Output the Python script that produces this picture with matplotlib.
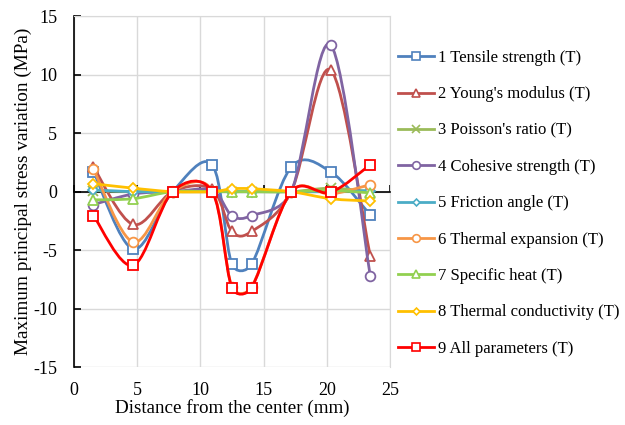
import numpy as np
import matplotlib
matplotlib.use('Agg')
import matplotlib.pyplot as plt
from matplotlib.path import Path
from matplotlib.patches import PathPatch
from matplotlib.lines import Line2D

plt.rc('font', family='Liberation Serif')
plt.rc('axes', unicode_minus=False)

# distance from the center (mm)
dist = [1.56, 4.69, 7.81, 10.94, 12.5, 14.06, 17.19, 20.31, 23.44]

tensile = [1.7, -4.9, 0.0, 2.3, -6.2, -6.2, 2.1, 1.7, -2.0]
young = [2.1, -2.8, 0.0, 0.2, -3.4, -3.4, 0.0, 10.4, -5.5]
poisson = [0.1, 0.0, 0.0, 0.05, 0.0, 0.0, 0.0, 0.3, 0.0]
cohesive = [-1.1, -0.2, 0.0, 0.1, -2.05, -2.05, 0.0, 12.55, -7.2]
friction = [0.15, 0.0, 0.0, 0.0, 0.0, 0.0, 0.0, 0.0, 0.1]
expansion = [1.9, -4.3, 0.0, 0.1, -8.15, -8.15, 0.0, -0.2, 0.6]
spec_heat = [-0.7, -0.6, 0.0, 0.0, 0.0, 0.0, 0.0, 0.1, -0.1]
conductivity = [0.68, 0.3, 0.0, 0.0, 0.25, 0.25, 0.0, -0.6, -0.8]
all_params = [-2.05, -6.3, 0.0, 0.0, -8.2, -8.2, 0.0, -0.05, 2.3]

labels = ['1 Tensile strength (T)', "2 Young's modulus (T)", "3 Poisson's ratio (T)",
          '4 Cohesive strength (T)', '5 Friction angle (T)', '6 Thermal expansion (T)',
          '7 Specific heat (T)', '8 Thermal conductivity (T)', '9 All parameters (T)']
series = [tensile, young, poisson, cohesive, friction, expansion, spec_heat,
          conductivity, all_params]
colors = ['#4F81BD', '#C0504D', '#9BBB59', '#8064A2', '#4BACC6', '#F79646',
          '#92D050', '#FFC000', '#FF0000']
markers = ['s', '^', 'x', 'o', 'D', 'o', '^', 'D', 's']
msizes = [7, 7, 7, 7, 5, 7, 7, 5, 7]


def smooth_path(ax, x, y):
    # excel-like smoothed line: bezier through the points, control arm
    # = 1/6 of neighbour chord, capped at half the segment (screen space)
    t = ax.transData
    p = t.transform(np.column_stack([x, y]).astype(float))
    n = len(p)
    verts = [p[0]]
    codes = [Path.MOVETO]
    for i in range(n - 1):
        p0 = p[i - 1] if i > 0 else p[i]
        p3 = p[i + 2] if i + 2 < n else p[i + 1]
        d12 = np.hypot(*(p[i + 1] - p[i]))
        a = p[i + 1] - p0
        b = p3 - p[i]
        la, lb = np.hypot(*a), np.hypot(*b)
        fa = min(1 / 6.0, d12 / 2.0 / la) if la > 0 else 0
        fb = min(1 / 6.0, d12 / 2.0 / lb) if lb > 0 else 0
        verts += [p[i] + a * fa, p[i + 1] - b * fb, p[i + 1]]
        codes += [Path.CURVE4] * 3
    verts = t.inverted().transform(np.array(verts))
    return Path(verts, codes)


fig = plt.figure(figsize=(6.25, 4.25), dpi=100)
ax = fig.add_axes([0.118, 0.136, 0.506, 0.826])
ax.set_xlim(0, 25)
ax.set_ylim(-15, 15)

handles = []
for k, (vals, c, m, ms) in enumerate(zip(series, colors, markers, msizes)):
    lw = 2.0
    ax.add_patch(PathPatch(smooth_path(ax, dist, vals), fill=False, edgecolor=c,
                           lw=lw, zorder=3 + k * 0.1, capstyle='round'))
    ax.plot(dist, vals, ls='none', marker=m, ms=ms, mfc='white' if m != 'x' else c,
            mec=c, mew=1.3, zorder=3.05 + k * 0.1)
    handles.append(Line2D([], [], color=c, lw=lw, marker=m, ms=ms - 1.5,
                          mfc='white', mec=c, mew=1.2))

ax.set_xticks(range(0, 26, 5))
ax.set_yticks(range(-15, 16, 5))
ax.grid(True, color='#d9d9d9', lw=1)
ax.set_axisbelow(True)

for s in ['top', 'right']:
    ax.spines[s].set_color('#d9d9d9')
ax.spines['left'].set_color('black')
ax.spines['left'].set_linewidth(1.2)
ax.spines['bottom'].set_position(('data', 0))
ax.spines['bottom'].set_color('black')
ax.spines['bottom'].set_linewidth(1.2)
ax.spines['bottom'].set_zorder(2.5)
ax.tick_params(axis='x', direction='in', length=5, width=1.2, labelbottom=False)
ax.tick_params(axis='y', direction='in', length=5, width=1.2, labelsize=13, pad=12)

sec = ax.secondary_xaxis('bottom')
sec.set_xticks(range(0, 26, 5))
sec.spines['bottom'].set_visible(False)
sec.tick_params(length=0, labelsize=13, pad=11)
sec.set_xlabel('Distance from the center (mm)', fontsize=13.7, labelpad=0)

ax.set_ylabel('Maximum principal stress variation (MPa)', fontsize=13.9, labelpad=1)

fig.legend(handles, labels, loc='upper left', bbox_to_anchor=(0.636, 0.882),
           frameon=False, fontsize=12, handlelength=2.2, handletextpad=0.2,
           labelspacing=1.22, borderpad=0, borderaxespad=0)

fig.savefig('out.png', dpi=100)
